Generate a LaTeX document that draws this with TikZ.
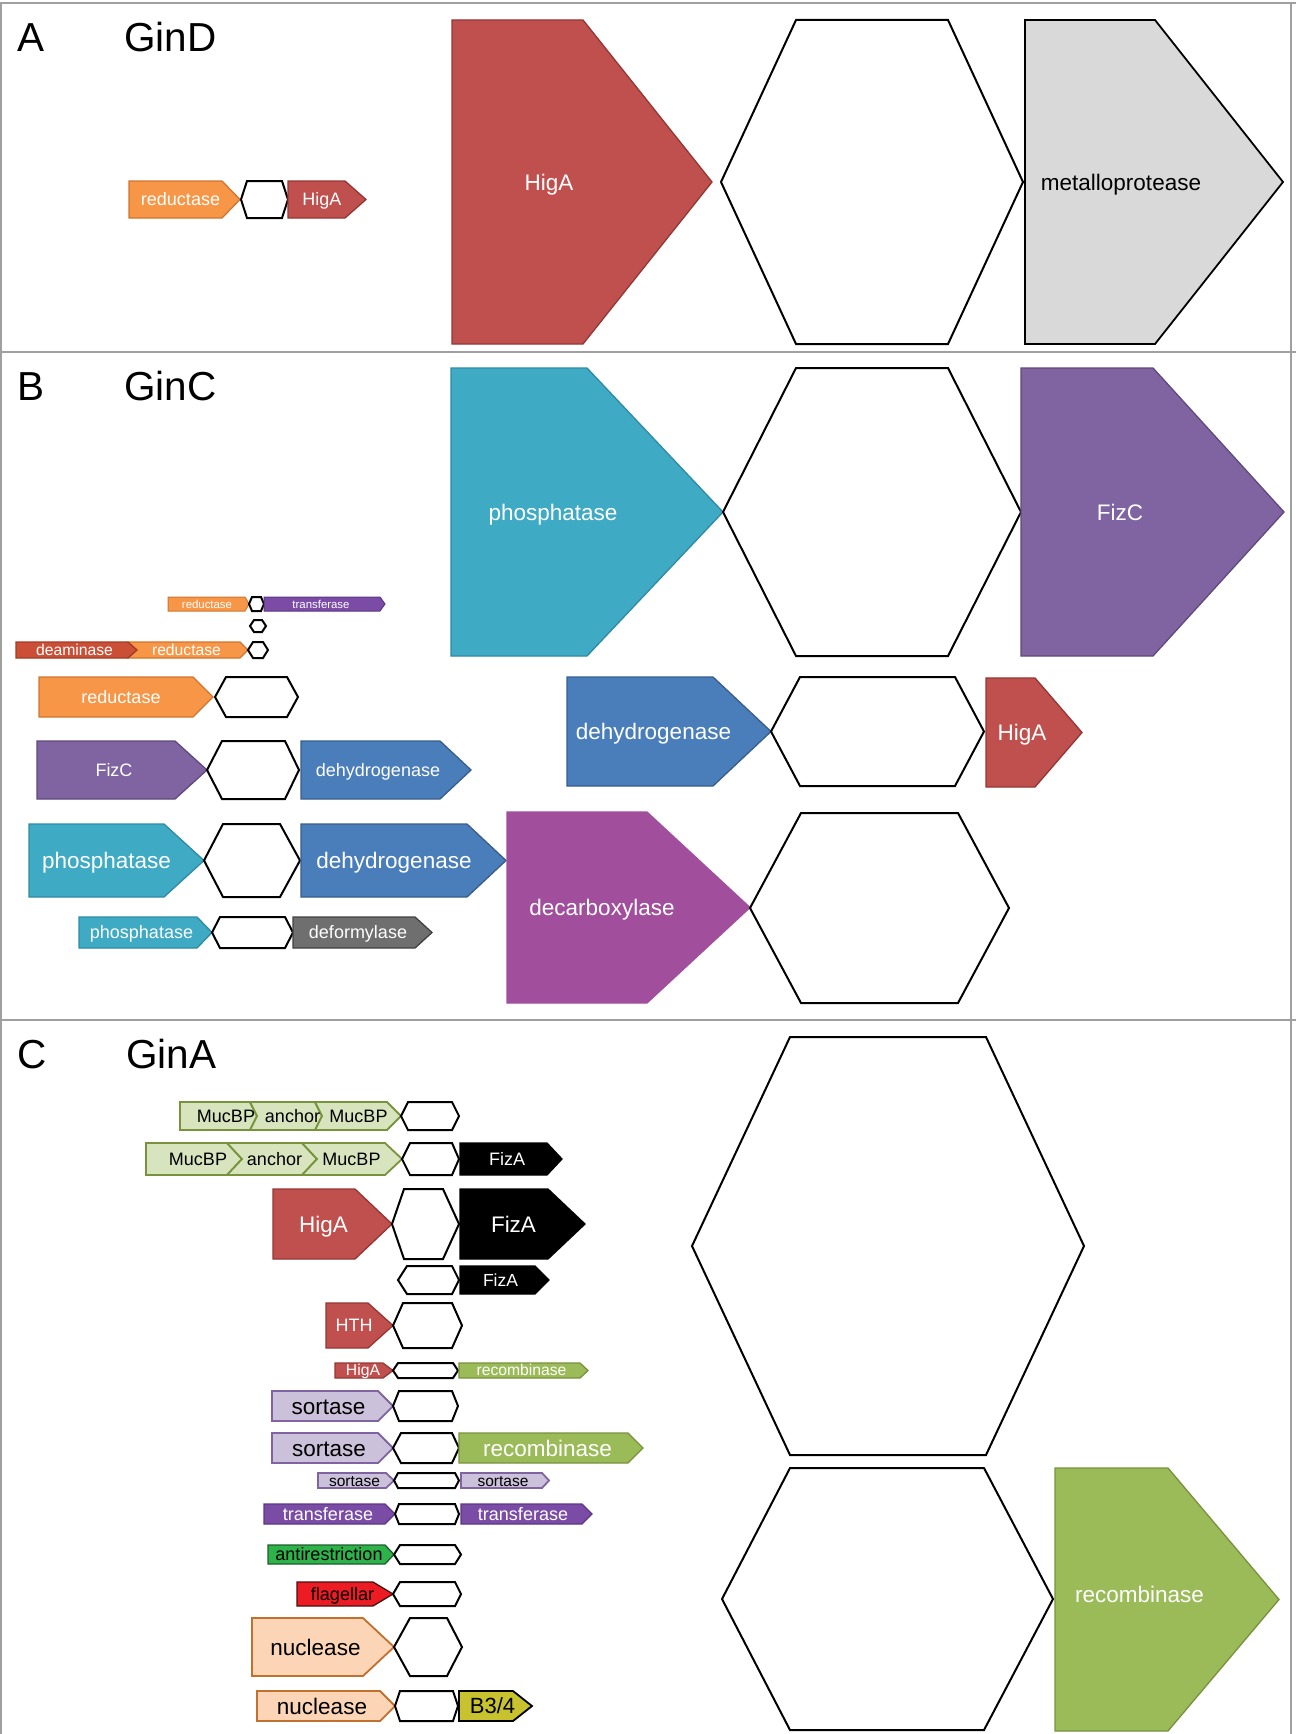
\documentclass[tikz,border=0pt]{standalone}
\usepackage{fontspec}
\setmainfont{Liberation Sans}
\definecolor{cHig}{HTML}{C0504D}\definecolor{cHigD}{HTML}{943634}
\definecolor{cRed}{HTML}{F79646}\definecolor{cRedD}{HTML}{D0752F}
\definecolor{cGry}{HTML}{D9D9D9}
\definecolor{cPho}{HTML}{3FAAC4}\definecolor{cPhoD}{HTML}{2F8AA3}
\definecolor{cFiz}{HTML}{8064A2}\definecolor{cFizD}{HTML}{5F497A}
\definecolor{cDeh}{HTML}{4A7EBB}\definecolor{cDehD}{HTML}{385D8A}
\definecolor{cDec}{HTML}{A14F9C}
\definecolor{cDea}{HTML}{CB4F36}\definecolor{cDeaD}{HTML}{A33A25}
\definecolor{cTra}{HTML}{7A4CA6}\definecolor{cTraD}{HTML}{5E3585}
\definecolor{cDef}{HTML}{6F6F6F}\definecolor{cDefD}{HTML}{404040}
\definecolor{cMuc}{HTML}{D7E4BD}\definecolor{cMucD}{HTML}{77933C}
\definecolor{cSor}{HTML}{CCC1DA}\definecolor{cSorD}{HTML}{8064A2}
\definecolor{cRec}{HTML}{9BBB59}\definecolor{cRecD}{HTML}{76923C}
\definecolor{cAnt}{HTML}{2DB34A}\definecolor{cAntD}{HTML}{1E5E2C}
\definecolor{cFla}{HTML}{ED1C24}\definecolor{cFlaD}{HTML}{4A1010}
\definecolor{cNuc}{HTML}{FBD5B5}\definecolor{cNucD}{HTML}{C0702F}
\definecolor{cB}{HTML}{C8C22E}
\definecolor{cFrame}{HTML}{A0A0A0}
\tikzset{
  garr/.style={line width=1.3pt, line join=miter},
  gHig/.style={garr, fill=cHig, draw=cHigD},
  gRed/.style={garr, fill=cRed, draw=cRedD},
  gGry/.style={garr, fill=cGry, draw=black, line width=1.8pt},
  gPho/.style={garr, fill=cPho, draw=cPhoD},
  gFiz/.style={garr, fill=cFiz, draw=cFizD},
  gDeh/.style={garr, fill=cDeh, draw=cDehD},
  gDec/.style={garr, fill=cDec, draw=cDec},
  gDea/.style={garr, fill=cDea, draw=cDeaD},
  gTra/.style={garr, fill=cTra, draw=cTraD},
  gDef/.style={garr, fill=cDef, draw=cDefD},
  gMuc/.style={garr, fill=cMuc, draw=cMucD, line width=1.8pt},
  gFizA/.style={garr, fill=black, draw=black},
  gSor/.style={garr, fill=cSor, draw=cSorD, line width=1.8pt},
  gRec/.style={garr, fill=cRec, draw=cRecD},
  gAnt/.style={garr, fill=cAnt, draw=cAntD},
  gFla/.style={garr, fill=cFla, draw=cFlaD},
  gNuc/.style={garr, fill=cNuc, draw=cNucD, line width=1.8pt},
  gB/.style={garr, fill=cB, draw=black, line width=1.8pt},
  hexline/.style={draw=black, fill=white, line width=2pt, line join=miter},
  glabel/.style={anchor=base, inner sep=0pt},
  ttl/.style={anchor=base west, inner sep=0pt, font=\fontsize{40.5}{40.5}\selectfont},
  framel/.style={draw=cFrame, line width=1.6pt}
}
% arrow: style, xleft, xbody, xtip, ytop, ybot
\newcommand{\garrow}[6]{\draw[#1] (#2,#5) -- (#3,#5) -- (#4,{(#5+#6)/2}) -- (#3,#6) -- (#2,#6) -- cycle;}
% notched arrow: style, xprevbody, xprevtip, xbody, xtip, ytop, ybot
\newcommand{\gchev}[7]{\draw[#1] (#2,#6) -- (#4,#6) -- (#5,{(#6+#7)/2}) -- (#4,#7) -- (#2,#7) -- (#3,{(#6+#7)/2}) -- cycle;}
% hexagon: xlefttip, xcornerL, xcornerR, xrighttip, ytop, ybot
\newcommand{\ghex}[6]{\draw[hexline] (#1,{(#5+#6)/2}) -- (#2,#5) -- (#3,#5) -- (#4,{(#5+#6)/2}) -- (#3,#6) -- (#2,#6) -- cycle;}
% label: name, x, ycenter, size, color, text
\newcommand{\glab}[6]{\node[glabel, font=\fontsize{#4}{#4}\selectfont, text=#5] (#1) at (#2,{#3+0.36*#4}) {#6};}
\begin{document}
\begin{tikzpicture}[x=1pt,y=-1pt]
\useasboundingbox (0,0) rectangle (1296,1734);
% frame
\draw[framel] (0,3) -- (1296,3);
\draw[framel] (1,3) -- (1,1734);
\draw[framel] (1291,3) -- (1291,1734);
\draw[framel] (0,352) -- (1296,352);
\draw[framel] (0,1020) -- (1296,1020);
% ---------------- A
\node[ttl] (tA) at (17,52) {A};
\node[ttl] (tGinD) at (124,52) {GinD};
\garrow{gRed}{129}{222}{240}{181}{218}
\ghex{241}{247}{282}{288}{181}{218}
\garrow{gHig}{288}{345}{366}{181}{218}
\glab{aRed}{180.5}{199.5}{18}{white}{reductase}
\glab{aHig}{322}{199.5}{18}{white}{HigA}
\garrow{gHig}{452}{583}{712}{20}{344}
\ghex{721}{796}{948}{1023}{20}{344}
\garrow{gGry}{1025}{1155}{1283}{20}{344}
\glab{aHigB}{549}{182}{22.5}{white}{HigA}
\glab{aMet}{1121}{182}{22.5}{black}{metalloprotease}
% ---------------- B
\node[ttl] (tB) at (17,400) {B};
\node[ttl] (tGinC) at (124,400) {GinC};
\garrow{gPho}{451}{587}{723}{368}{656}
\ghex{723}{796}{948}{1021}{368}{656}
\garrow{gFiz}{1021}{1153}{1284}{368}{656}
\glab{bPhoB}{553}{512}{22.5}{white}{phosphatase}
\glab{bFizB}{1120}{512}{22.5}{white}{FizC}
% row 1
\garrow{gRed,line width=1pt}{168}{245}{249}{597}{611}
\ghex{249}{252}{261}{264}{597}{611}
\garrow{gTra,line width=1pt}{264}{380}{385}{597}{611}
\glab{b1Red}{207}{604}{11.4}{white}{reductase}
\glab{b1Tra}{321}{604}{11.4}{white}{transferase}
% row 2
\ghex{250}{254}{262}{266}{620}{632}
% row 3
\garrow{gRed}{128}{240}{248}{642}{658}
\garrow{gDea}{16}{128}{137}{642}{658}
\ghex{248}{253}{263}{268}{642}{658}
\glab{b3Dea}{74.5}{650}{15.7}{white}{deaminase}
\glab{b3Red}{186.5}{650}{15.7}{white}{reductase}
% row 4
\garrow{gRed}{39}{193}{213}{677}{717}
\ghex{215}{226}{287}{298}{677}{717}
\glab{b4Red}{121}{697}{18}{white}{reductase}
% row 5
\garrow{gFiz}{37}{175}{207}{741}{799}
\ghex{207}{222}{285}{299}{741}{799}
\garrow{gDeh}{301}{440}{471}{741}{799}
\glab{b5Fiz}{114}{770}{18}{white}{FizC}
\glab{b5Deh}{378}{770}{18}{white}{dehydrogenase}
% row 6
\garrow{gPho}{29}{164}{204}{824}{897}
\ghex{204}{223}{280}{300}{824}{897}
\garrow{gDeh}{301}{467}{506}{824}{897}
\glab{b6Pho}{106.5}{860}{22.5}{white}{phosphatase}
\glab{b6Deh}{394}{860}{22.5}{white}{dehydrogenase}
% row 7
\garrow{gPho}{79}{197}{212}{917}{948}
\ghex{212}{220}{285}{293}{917}{948}
\garrow{gDef}{293}{415}{432}{917}{948}
\glab{b7Pho}{141.5}{932}{18}{white}{phosphatase}
\glab{b7Def}{358}{932}{18}{white}{deformylase}
% right
\garrow{gDeh}{567}{713}{771}{677}{786}
\ghex{771}{800}{955}{984}{677}{786}
\garrow{gHig}{986}{1035}{1082}{678}{787}
\glab{brDeh}{653.5}{731}{22.5}{white}{dehydrogenase}
\glab{brHig}{1022}{732}{22.5}{white}{HigA}
\garrow{gDec}{507}{647}{750}{812}{1003}
\ghex{750}{801}{958}{1009}{813}{1003}
\glab{brDec}{602}{907}{22.5}{white}{decarboxylase}
% ---------------- C
\node[ttl] (tC) at (17,1068) {C};
\node[ttl] (tGinA) at (126,1068) {GinA};
% row 1
\garrow{gMuc}{180}{250}{257}{1102}{1130}
\gchev{gMuc}{250}{257}{315}{322}{1102}{1130}
\gchev{gMuc}{315}{322}{387}{401}{1102}{1130}
\ghex{401}{408}{452}{459}{1102}{1130}
\glab{c1M1}{226}{1116}{18}{black}{MucBP}
\glab{c1An}{292.5}{1116}{18}{black}{anchor}
\glab{c1M2}{358.5}{1116}{18}{black}{MucBP}
% row 2
\garrow{gMuc}{146}{227}{242}{1143}{1175}
\gchev{gMuc}{227}{242}{302}{317}{1143}{1175}
\gchev{gMuc}{302}{317}{385}{402}{1143}{1175}
\ghex{402}{410}{452}{459}{1143}{1175}
\garrow{gFizA}{460}{547}{562}{1143}{1175}
\glab{c2M1}{198}{1159}{18}{black}{MucBP}
\glab{c2An}{274.5}{1159}{18}{black}{anchor}
\glab{c2M2}{351.5}{1159}{18}{black}{MucBP}
\glab{c2Fiz}{507}{1159}{18}{white}{FizA}
% row 3
\garrow{gHig}{273}{355}{392}{1189}{1259}
\ghex{392}{404}{443}{459}{1189}{1259}
\garrow{gFizA}{460}{548}{585}{1189}{1259}
\glab{c3Hig}{323.5}{1224}{22.5}{white}{HigA}
\glab{c3Fiz}{513.5}{1224}{22.5}{white}{FizA}
% row 4
\ghex{398}{407}{452}{459}{1266}{1294}
\garrow{gFizA}{460}{535}{549}{1266}{1294}
\glab{c4Fiz}{500.5}{1280}{17.5}{white}{FizA}
% row 5
\garrow{gHig}{326}{368}{393}{1303}{1348}
\ghex{393}{403}{452}{462}{1303}{1348}
\glab{c5HTH}{354}{1325}{18}{white}{HTH}
% row 6
\garrow{gHig}{335}{383}{393}{1363}{1378}
\ghex{393}{398}{453}{458}{1363}{1378}
\garrow{gRec}{459}{580}{588}{1363}{1378}
\glab{c6Hig}{363}{1370}{15.7}{white}{HigA}
\glab{c6Rec}{521.5}{1370}{15.7}{white}{recombinase}
% row 7
\garrow{gSor}{272}{378}{393}{1391}{1421}
\ghex{393}{399}{452}{458}{1391}{1421}
\glab{c7Sor}{328.5}{1406}{22.5}{black}{sortase}
% row 8
\garrow{gSor}{272}{378}{393}{1433}{1463}
\ghex{393}{401}{452}{459}{1433}{1463}
\garrow{gRec}{459}{628}{643}{1433}{1463}
\glab{c8Sor}{329}{1448}{22.5}{black}{sortase}
\glab{c8Rec}{547.5}{1448}{22.5}{white}{recombinase}
% row 9
\garrow{gSor}{318}{386}{394}{1473}{1488}
\ghex{394}{398}{455}{459}{1473}{1488}
\garrow{gSor}{461}{542}{549}{1473}{1488}
\glab{c9Sor}{354.5}{1481}{15.5}{black}{sortase}
\glab{c9SorB}{503}{1481}{15.5}{black}{sortase}
% row 10
\garrow{gTra}{264}{385}{395}{1504}{1524}
\ghex{395}{399}{455}{459}{1504}{1524}
\garrow{gTra}{461}{582}{592}{1504}{1524}
\glab{c10Tra}{328}{1514}{18}{white}{transferase}
\glab{c10TraB}{523}{1514}{18}{white}{transferase}
% row 11
\garrow{gAnt}{268}{385}{394}{1545}{1564}
\ghex{394}{400}{455}{461}{1545}{1564}
\glab{c11Ant}{329}{1554}{18}{black}{antirestriction}
% row 12
\garrow{gFla}{297}{373}{393}{1582}{1606}
\ghex{393}{400}{455}{461}{1582}{1606}
\glab{c12Fla}{342.5}{1594}{18}{black}{flagellar}
% row 13
\garrow{gNuc}{252}{363}{394}{1618}{1676}
\ghex{394}{410}{447}{462}{1618}{1676}
\glab{c13Nuc}{315.5}{1647}{22.5}{black}{nuclease}
% row 14
\garrow{gNuc}{257}{380}{395}{1691}{1721}
\ghex{395}{400}{453}{458}{1691}{1721}
\garrow{gB}{459}{513}{532}{1691}{1721}
\glab{c14Nuc}{322}{1706}{22.5}{black}{nuclease}
\glab{c14B}{492.5}{1706}{22}{black}{B3/4}
% right big
\ghex{692}{790}{986}{1084}{1037}{1455}
\ghex{722}{790}{984}{1053}{1468}{1730}
\garrow{gRec}{1055}{1168}{1279}{1468}{1731}
\glab{crRec}{1139.5}{1594}{22.5}{white}{recombinase}
\end{tikzpicture}
\end{document}
